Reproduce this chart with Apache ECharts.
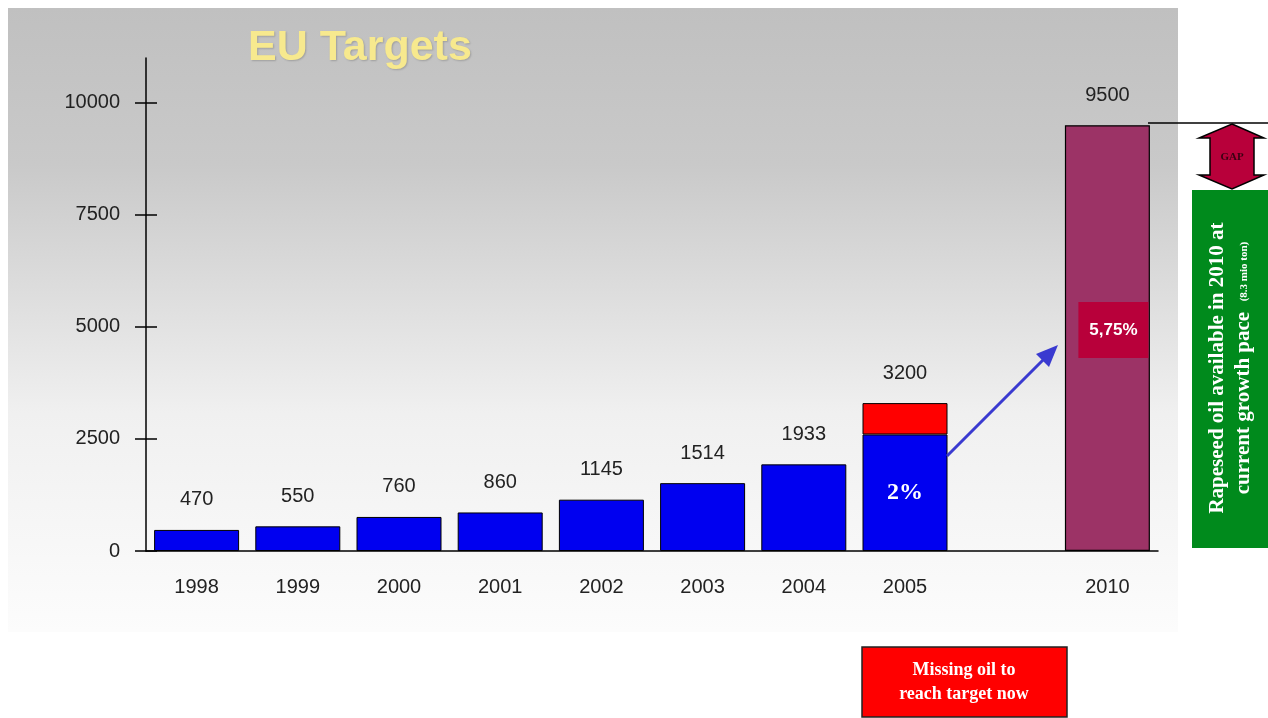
<!DOCTYPE html>
<html>
<head>
<meta charset="utf-8">
<script src="https://cdn.jsdelivr.net/npm/echarts@6/dist/echarts.min.js"></script>
<style>
  html, body { margin: 0; padding: 0; background: #fff; }
  #chart { width: 1268px; height: 718px; }
</style>
</head>
<body>
<div id="chart"></div>
<script>
  // categories (one empty slot between 2005 and 2010)
  const years = ['1998', '1999', '2000', '2001', '2002', '2003', '2004', '2005', '', '2010'];
  // blue part (current production)
  const produced = [470, 550, 760, 860, 1145, 1514, 1933, 2600, '-', '-'];
  // red part: missing oil in 2005
  const missing = ['-', '-', '-', '-', '-', '-', '-', 700, '-', '-'];
  // 2010 target
  const target = ['-', '-', '-', '-', '-', '-', '-', '-', '-', 9500];
  // labels shown above each bar
  const topLabels = ['470', '550', '760', '860', '1145', '1514', '1933', '3200', '', '9500'];
  const yTicks = [0, 2500, 5000, 7500, 10000];

  const sans = 'Liberation Sans, Arial, sans-serif';
  const serif = 'Liberation Serif, Times New Roman, serif';

  const myChart = echarts.init(document.getElementById('chart'));

  const topLabel = {
    show: true,
    position: 'top',
    distance: 20,
    color: '#222',
    fontFamily: sans,
    fontSize: 20,
    formatter: function (p) { return topLabels[p.dataIndex]; }
  };

  const option = {
    backgroundColor: '#ffffff',
    animation: false,
    title: {
      text: 'EU Targets',
      left: 243,
      top: 22,
      textStyle: {
        color: '#f7e98e',
        fontFamily: sans,
        fontWeight: 'bold',
        fontSize: 43,
        textShadowColor: 'rgba(120,120,120,0.5)',
        textShadowBlur: 2,
        textShadowOffsetX: 1,
        textShadowOffsetY: 1
      }
    },
    grid: { left: 146, right: 110, top: 58, bottom: 167 },
    xAxis: {
      type: 'category',
      data: years,
      axisLine: { lineStyle: { color: '#000', width: 1.5 } },
      axisTick: { show: false },
      axisLabel: { color: '#222', fontFamily: sans, fontSize: 20, margin: 26 }
    },
    yAxis: [
      {
        type: 'value',
        min: 0,
        max: 11000,
        interval: 2500,
        splitLine: { show: false },
        axisLine: { show: true, lineStyle: { color: '#000', width: 1.5 } },
        axisTick: { show: true, length: 11, customValues: yTicks, lineStyle: { color: '#000', width: 1.5 } },
        axisLabel: {
          color: '#222', fontFamily: sans, fontSize: 20, margin: 26, customValues: yTicks,
          formatter: function (v) { return String(v); }
        }
      },
      {
        type: 'value',
        min: 0,
        max: 11000,
        interval: 2500,
        position: 'left',
        splitLine: { show: false },
        axisLine: { show: false },
        axisTick: { show: true, inside: true, length: 11, customValues: yTicks, lineStyle: { color: '#000', width: 1.5 } },
        axisLabel: { show: false }
      }
    ],
    series: [
      {
        name: 'Produced',
        type: 'bar',
        stack: 'oil',
        barWidth: 85,
        data: produced.map(function (v, i) {
          if (i === 7) {
            return {
              value: v,
              label: {
                show: true, position: 'inside', formatter: '2%',
                color: '#fff', fontFamily: serif, fontWeight: 'bold', fontSize: 24
              }
            };
          }
          return v;
        }),
        itemStyle: { color: '#0000f0', borderColor: '#000', borderWidth: 1 },
        label: topLabel
      },
      {
        name: 'Missing',
        type: 'bar',
        stack: 'oil',
        barWidth: 85,
        data: missing,
        itemStyle: { color: '#ff0000', borderColor: '#000', borderWidth: 1 },
        label: topLabel
      },
      {
        name: 'Target',
        type: 'bar',
        stack: 'oil',
        barWidth: 85,
        data: target,
        itemStyle: { color: '#9c3366', borderColor: '#000', borderWidth: 1.2 },
        label: topLabel,
        markPoint: {
          symbol: 'rect',
          symbolSize: [70, 56],
          symbolOffset: [6, 0],
          itemStyle: { color: '#b8003a' },
          label: { show: true, formatter: '5,75%', color: '#fff', fontFamily: sans, fontWeight: 'bold', fontSize: 17 },
          data: [{ coord: ['2010', 4930] }]
        }
      }
    ],
    graphic: [
      // grey gradient panel behind the chart
      {
        type: 'rect', z: -10, silent: true,
        shape: { x: 8, y: 8, width: 1170, height: 624 },
        style: {
          fill: new echarts.graphic.LinearGradient(0, 0, 0, 1, [
            { offset: 0, color: '#c0c0c0' },
            { offset: 0.25, color: '#c9c9c9' },
            { offset: 0.65, color: '#f0f0f0' },
            { offset: 1, color: '#fcfcfc' }
          ])
        }
      },
      // blue arrow from 2005 to 2010
      {
        type: 'line', z: 5,
        shape: { x1: 947, y1: 456, x2: 1045, y2: 358 },
        style: { stroke: '#3a3ad0', lineWidth: 3 }
      },
      {
        type: 'polygon', z: 5,
        shape: { points: [[1058, 345], [1036, 354], [1049, 367]] },
        style: { fill: '#3a3ad0' }
      },
      // line from top of 2010 bar to the right
      {
        type: 'line', z: 5,
        shape: { x1: 1148, y1: 123, x2: 1268, y2: 123 },
        style: { stroke: '#000', lineWidth: 1.5 }
      },
      // GAP double arrow
      {
        type: 'polygon', z: 6,
        shape: {
          points: [
            [1232, 124], [1264, 138], [1254, 138], [1254, 175], [1264, 175],
            [1232, 189], [1199, 175], [1210, 175], [1210, 138], [1199, 138]
          ]
        },
        style: { fill: '#b8003a', stroke: '#000', lineWidth: 1.5 }
      },
      {
        type: 'text', z: 7,
        x: 1232, y: 157,
        style: {
          text: 'GAP', fill: '#3a0012', font: 'bold 11px ' + serif,
          align: 'center', verticalAlign: 'middle'
        }
      },
      // green box
      {
        type: 'rect', z: 5,
        shape: { x: 1192, y: 190, width: 80, height: 358 },
        style: { fill: '#008a1c' }
      },
      {
        type: 'text', z: 6,
        x: 1231, y: 368, rotation: Math.PI / 2,
        style: {
          text: '{a|Rapeseed oil available in 2010 at}\n{a|current growth pace  }{b|(8.3 mio ton)}',
          align: 'center', verticalAlign: 'middle',
          rich: {
            a: { fill: '#fff', font: 'bold 21px ' + serif, lineHeight: 26 },
            b: { fill: '#fff', font: 'bold 11px ' + serif, lineHeight: 26 }
          }
        }
      },
      // red note box
      {
        type: 'rect', z: 5,
        shape: { x: 862, y: 647, width: 205, height: 70 },
        style: { fill: '#ff0000', stroke: '#222', lineWidth: 1.5 }
      },
      {
        type: 'text', z: 6,
        x: 964, y: 682,
        style: {
          text: 'Missing oil to\nreach target now',
          fill: '#fff', font: 'bold 18px ' + serif,
          align: 'center', verticalAlign: 'middle', lineHeight: 24
        }
      }
    ]
  };

  myChart.setOption(option);
</script>
</body>
</html>
